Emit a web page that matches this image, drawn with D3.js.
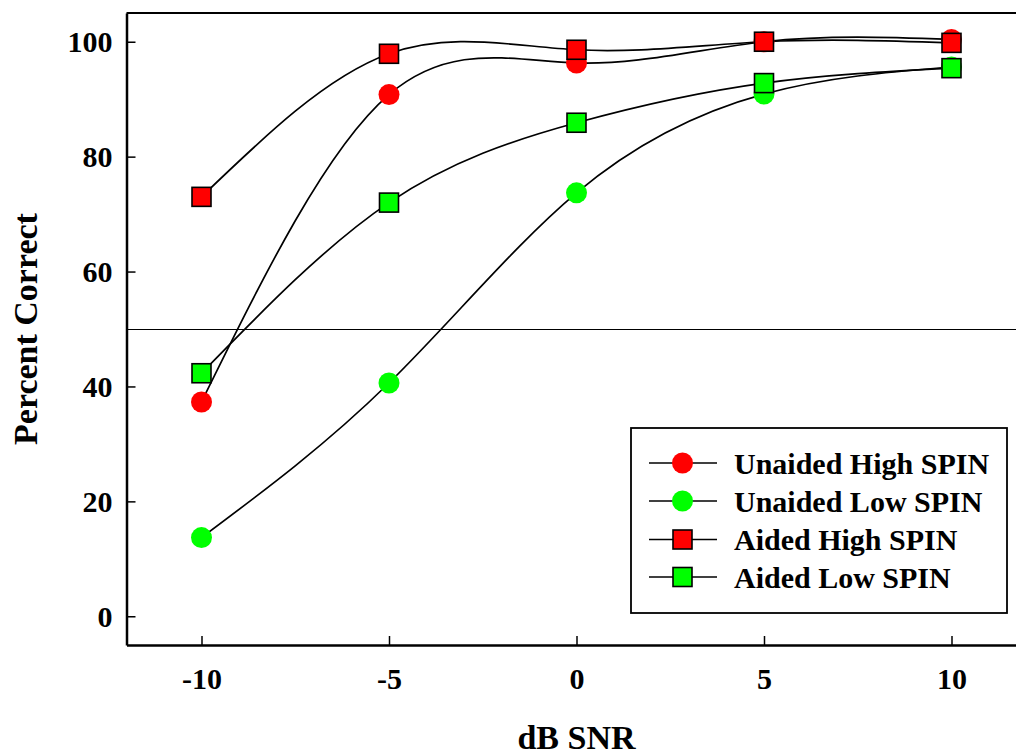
<!DOCTYPE html>
<meta charset="utf-8">
<style>
body { margin: 0; background: #fff; }
text { font-family: "Liberation Serif", "Times New Roman", serif; font-weight: bold; }
.curve { fill: none; stroke: #000; stroke-width: 1.7px; }
</style>
<svg width="1016" height="754"></svg>
<script src="https://d3js.org/d3.v7.min.js"></script>
<script>

// data
var snr = [-10, -5, 0, 5, 10];
var unaidedHigh = [37.3, 90.8, 96.3, 100, 100.4];
var unaidedLow  = [13.7, 40.6, 73.7, 90.9, 95.6];
var aidedHigh   = [73.0, 97.9, 98.6, 100, 99.8];
var aidedLow    = [42.3, 72.0, 85.9, 92.8, 95.4];
var xTicks = [-10, -5, 0, 5, 10];
var yTicks = [0, 20, 40, 60, 80, 100];
var refLevel = 50;

var series = [
  {name: "Unaided High SPIN", values: unaidedHigh, shape: "circle", color: "#ff0000"},
  {name: "Unaided Low SPIN",  values: unaidedLow,  shape: "circle", color: "#00ff00"},
  {name: "Aided High SPIN",   values: aidedHigh,   shape: "square", color: "#ff0000"},
  {name: "Aided Low SPIN",    values: aidedLow,    shape: "square", color: "#00ff00"}
];

var svg = d3.select("svg");
var plotLeft = 126.5, plotRight = 1026.5, plotTop = 13, plotBottom = 645;

var x = d3.scaleLinear().domain([-12, 12]).range([plotLeft, plotRight]);
var y = d3.scaleLinear().domain([-5, 105]).range([plotBottom, plotTop]);

// frame top line
svg.append("line")
    .attr("x1", plotLeft).attr("x2", plotRight)
    .attr("y1", plotTop).attr("y2", plotTop)
    .attr("stroke", "#000").attr("stroke-width", 2);

// 50% reference line
svg.append("line")
    .attr("x1", plotLeft).attr("x2", plotRight)
    .attr("y1", y(refLevel)).attr("y2", y(refLevel))
    .attr("stroke", "#000").attr("stroke-width", 1)
    .attr("shape-rendering", "crispEdges");

var xAxis = svg.append("g")
    .attr("transform", "translate(0," + plotBottom + ")")
    .call(d3.axisBottom(x).tickValues(xTicks).tickSize(-9).tickSizeOuter(0).tickFormat(d3.format("d")));
xAxis.select(".domain").attr("stroke-width", 2.5);
xAxis.selectAll(".tick line").attr("stroke-width", 1.5);
xAxis.selectAll("text")
    .attr("y", 44).attr("dy", null)
    .attr("font-size", 30).attr("font-family", null).attr("fill", "#000")
    .text(function(d) { return d < 0 ? "-" + Math.abs(d) : d; });

var yAxis = svg.append("g")
    .attr("transform", "translate(" + plotLeft + ",0)")
    .call(d3.axisLeft(y).tickValues(yTicks).tickSize(-9).tickSizeOuter(0).tickPadding(14));
yAxis.select(".domain").attr("stroke-width", 2.5);
yAxis.selectAll(".tick line").attr("stroke-width", 1.5);
yAxis.selectAll("text")
    .attr("font-size", 30).attr("font-family", null).attr("fill", "#000")
    .attr("dy", "0.34em");

// axis titles
svg.append("text")
    .attr("x", x(0)).attr("y", 749)
    .attr("text-anchor", "middle")
    .attr("font-size", 34)
    .text("dB SNR");

svg.append("text")
    .attr("transform", "translate(37," + y(50) + ") rotate(-90)")
    .attr("text-anchor", "middle")
    .attr("font-size", 34)
    .text("Percent Correct");

// curves
var line = d3.line()
    .x(function(d, i) { return x(snr[i]); })
    .y(function(d) { return y(d); })
    .curve(d3.curveNatural);

svg.append("g").selectAll("path")
    .data(series)
    .enter().append("path")
      .attr("class", "curve")
      .attr("d", function(s) { return line(s.values); });

// markers: circles first, squares on top
function drawMarker(g, shape, color, cx, cy) {
  if (shape == "circle") {
    g.append("circle")
        .attr("cx", cx).attr("cy", cy).attr("r", 10.5)
        .attr("fill", color);
  } else {
    g.append("rect")
        .attr("x", cx - 9.5).attr("y", cy - 9.5)
        .attr("width", 19).attr("height", 19)
        .attr("fill", color)
        .attr("stroke", "#000").attr("stroke-width", 1.6);
  }
}

var marks = svg.append("g");
series.forEach(function(s) {
  s.values.forEach(function(v, i) {
    drawMarker(marks, s.shape, s.color, x(snr[i]), y(v));
  });
});

// legend
var legend = svg.append("g");
legend.append("rect")
    .attr("x", 631).attr("y", 428)
    .attr("width", 376).attr("height", 185)
    .attr("fill", "#fff")
    .attr("stroke", "#000").attr("stroke-width", 1.8);

var rowY = [463, 501, 539.5, 577];
series.forEach(function(s, i) {
  var ry = rowY[i];
  legend.append("line")
      .attr("x1", 649).attr("x2", 717)
      .attr("y1", ry).attr("y2", ry)
      .attr("stroke", "#000").attr("stroke-width", 1.6);
  drawMarker(legend, s.shape, s.color, 682.5, ry);
  legend.append("text")
      .attr("x", 734).attr("y", ry)
      .attr("dy", "0.35em")
      .attr("font-size", 30)
      .text(s.name);
});

</script>
